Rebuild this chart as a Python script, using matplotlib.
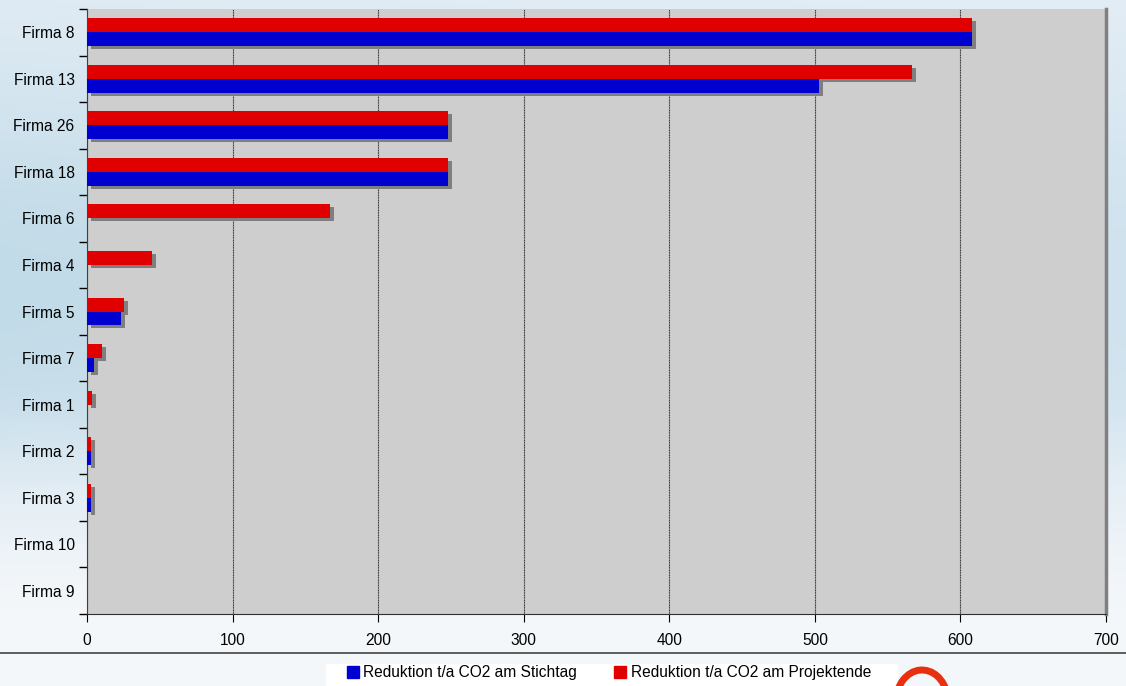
import numpy as np
import matplotlib
matplotlib.use("Agg")
import matplotlib.pyplot as plt
import matplotlib.transforms as mtransforms
from matplotlib.patches import Patch, Arc, Rectangle

firmen = ["Firma 8", "Firma 13", "Firma 26", "Firma 18", "Firma 6", "Firma 4",
          "Firma 5", "Firma 7", "Firma 1", "Firma 2", "Firma 3", "Firma 10", "Firma 9"]
stichtag = [608, 503, 248, 248, 0, 0, 23.5, 5, 0, 3, 3, 0, 0]
projektende = [608, 567, 248, 248, 167, 44.5, 25.5, 10, 3.5, 3, 3, 0, 0]
xticks = [0, 100, 200, 300, 400, 500, 600, 700]

plt.rcParams['font.family'] = ['Liberation Sans', 'DejaVu Sans']

W, H = 1126, 686
fig = plt.figure(figsize=(W / 100, H / 100), dpi=100)

# background gradient
bg = fig.add_axes([0, 0, 1, 1], zorder=-10)
yy = np.linspace(0, 1, 300)[:, None]
xx = np.linspace(0, 1, 300)[None, :]
top = np.array([0.91, 0.94, 0.97])
mid = np.array([0.76, 0.86, 0.91])
low = np.array([0.96, 0.97, 0.98])
w = np.exp(-((yy - 0.42) / 0.35) ** 2) * (1 - 0.35 * xx)
img = top[None, None, :] * (1 - w[..., None]) + mid[None, None, :] * w[..., None]
f = np.clip((yy - 0.6) / 0.3, 0, 1)
img = img * (1 - f[..., None]) + low[None, None, :] * f[..., None]
bg.imshow(img, extent=[0, 1, 0, 1], aspect='auto', origin='upper')
bg.axhline(1 - 653 / H, color='#444444', lw=1.2)
bg.add_patch(Rectangle((326 / W, 0), (898 - 326) / W, (H - 664) / H,
                       facecolor='white', edgecolor='none', transform=bg.transAxes))
# logo fragment
bg.add_patch(Arc((922 / W, 1 - 702 / H), 52 / W, 64 / H, theta1=25, theta2=175,
                 color='#e83010', lw=5, transform=bg.transAxes))
bg.set_xlim(0, 1)
bg.set_ylim(0, 1)
bg.axis('off')

ax = fig.add_axes([87 / W, 1 - 614 / H, (1106 - 87) / W, (614 - 9) / H])
ax.set_facecolor('#cecece')

y = np.arange(len(firmen))[::-1]
h = 0.3
shadow = mtransforms.offset_copy(ax.transData, fig=fig, x=4, y=-3, units='dots')
ax.barh(y - h / 2, stichtag, height=h, color='#7f7f7f', transform=shadow, zorder=2)
ax.barh(y + h / 2, projektende, height=h, color='#7f7f7f', transform=shadow, zorder=2)
ax.barh(y - h / 2, stichtag, height=h, color='#0000d0', zorder=3)
ax.barh(y + h / 2, projektende, height=h, color='#e00000', zorder=3)

ax.set_xlim(0, 700)
ax.set_ylim(-0.5, len(firmen) - 0.5)
ax.set_xticks(xticks)
ax.set_yticks(y)
ax.set_yticklabels(firmen)
ax.set_yticks(np.arange(len(firmen) + 1) - 0.5, minor=True)
ax.tick_params(axis='y', which='major', length=0, labelsize=11.2, pad=9)
ax.tick_params(axis='y', which='minor', length=6, direction='out', width=1)
ax.tick_params(axis='x', length=6, direction='out', labelsize=11.2, pad=8)
ax.grid(axis='x', color='#333333', lw=0.8, linestyle=(0, (1, 0.5)), zorder=1)
ax.spines['top'].set_visible(False)
ax.spines['right'].set_color('#808080')
ax.spines['right'].set_linewidth(2.5)
ax.spines['left'].set_color('#404040')
ax.spines['bottom'].set_color('#303030')

# legend
handles = [Patch(color='#0000d0', label='Reduktion t/a CO2 am Stichtag'),
           Patch(color='#e00000', label='Reduktion t/a CO2 am Projektende')]
leg = fig.legend(handles=handles, loc='center', bbox_to_anchor=(609 / W, 1 - 673 / H),
                 ncol=2, frameon=False, fontsize=11.2, handlelength=0.75, handleheight=0.75,
                 handletextpad=0.3, columnspacing=2.4, borderpad=0.2)

fig.savefig('out.png', dpi=100)
